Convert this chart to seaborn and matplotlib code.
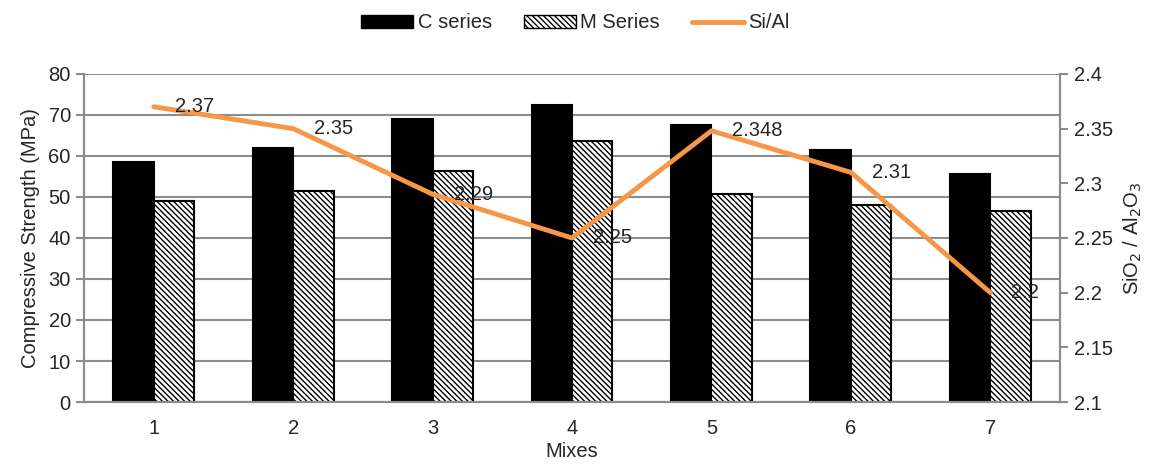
import numpy as np
import pandas as pd
import matplotlib.pyplot as plt
import seaborn as sns
from matplotlib.patches import Patch
from matplotlib.lines import Line2D

# values
mixes = ['1', '2', '3', '4', '5', '6', '7']
c_series = [58.5, 62.0, 69.0, 72.5, 67.5, 61.5, 55.5]
m_series = [49.0, 51.5, 56.3, 63.7, 50.7, 48.0, 46.7]
si_al = [2.37, 2.35, 2.29, 2.25, 2.348, 2.31, 2.2]
si_al_labels = ['2.37', '2.35', '2.29', '2.25', '2.348', '2.31', '2.2']

sns.set_style('white')
plt.rcParams['font.family'] = ['Liberation Sans', 'DejaVu Sans']
plt.rcParams['font.size'] = 14.5
plt.rcParams['hatch.linewidth'] = 1.0

df = pd.DataFrame({
    'Mixes': mixes * 2,
    'Series': ['C series'] * 7 + ['M Series'] * 7,
    'Strength': c_series + m_series,
})

fig = plt.figure(figsize=(11.51, 4.68), dpi=100)
ax = fig.add_axes([0.073, 0.141, 0.848, 0.701])

grid_col = '#8c8c8c'
fs = 14.5
sns.barplot(data=df, x='Mixes', y='Strength', hue='Series',
            palette={'C series': 'black', 'M Series': 'white'},
            width=0.58, gap=0, edgecolor='black', linewidth=1.5,
            legend=False, ax=ax)

# hatch the M series bars
for bar in ax.patches[7:14]:
    bar.set_hatch('\\\\\\\\\\\\')

ax.set_ylim(0, 80)
ax.set_yticks(np.arange(0, 81, 10))
ax.set_xlim(-0.5, 6.5)
ax.yaxis.grid(True, color=grid_col, linewidth=1.5)
ax.set_axisbelow(True)
ax.set_xlabel('Mixes', fontsize=fs, labelpad=3)
ax.set_ylabel('Compressive Strength (MPa)', fontsize=fs, labelpad=6)
ax.tick_params(axis='x', which='major', length=0, pad=12, labelsize=fs)
ax.set_xticks(np.arange(-0.5, 7, 1), minor=True)
ax.tick_params(axis='x', which='minor', length=6, color=grid_col, width=1.5, direction='out')
ax.tick_params(axis='y', length=6, color=grid_col, width=1.5, direction='out', labelsize=fs)
for s in ['left', 'bottom', 'right']:
    ax.spines[s].set_color(grid_col)
    ax.spines[s].set_linewidth(1.5)
ax.spines['top'].set_visible(False)

ax2 = ax.twinx()
sns.lineplot(x=np.arange(7), y=si_al, ax=ax2, color='#F79646', linewidth=3.5)
ax2.set_ylim(2.1, 2.4)
ax2.set_yticks(np.arange(2.1, 2.401, 0.05))
ax2.set_yticklabels(['2.1', '2.15', '2.2', '2.25', '2.3', '2.35', '2.4'])
ax2.set_ylabel('SiO$_2$ / Al$_2$O$_3$', fontsize=fs, labelpad=6)
ax2.tick_params(axis='y', length=6, color=grid_col, width=1.5, direction='out',
                labelsize=fs, pad=4)
for s in ['left', 'bottom', 'right']:
    ax2.spines[s].set_color(grid_col)
    ax2.spines[s].set_linewidth(1.5)
ax2.spines['top'].set_visible(False)
ax2.set_xlim(-0.5, 6.5)

for i, (v, lab) in enumerate(zip(si_al, si_al_labels)):
    ax2.annotate(lab, (i, v), xytext=(21, 0), textcoords='offset pixels',
                 va='center', ha='left', fontsize=fs)

handles = [Patch(facecolor='black', edgecolor='black', label='C series'),
           Patch(facecolor='white', edgecolor='black', hatch='\\\\\\\\\\\\', label='M Series'),
           Line2D([0], [0], color='#F79646', linewidth=3.5, label='Si/Al')]
fig.legend(handles=handles, loc='upper center', bbox_to_anchor=(0.5, 1.01),
           ncol=3, frameon=False, fontsize=fs, handlelength=2.6,
           handleheight=0.6, columnspacing=1.6, handletextpad=0.2)

plt.savefig('out.png', dpi=100)
